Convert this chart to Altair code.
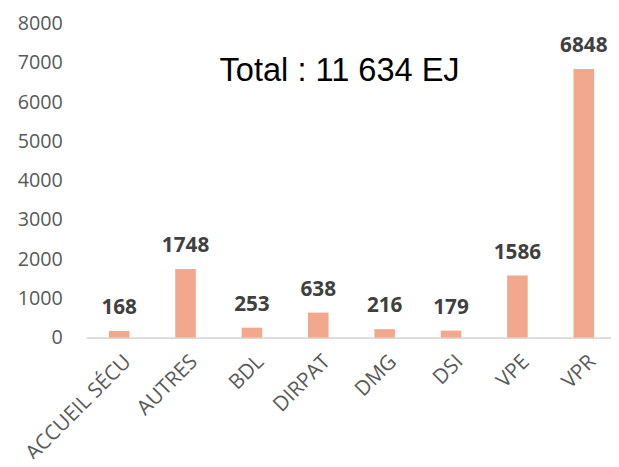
import altair as alt
import pandas as pd

categories = ["ACCUEIL SÉCU", "AUTRES", "BDL", "DIRPAT", "DMG", "DSI", "VPE", "VPR"]
values = [168, 1748, 253, 638, 216, 179, 1586, 6848]
total_label = "Total : 11 634 EJ"
y_ticks = [0, 1000, 2000, 3000, 4000, 5000, 6000, 7000, 8000]

df = pd.DataFrame({"cat": categories, "val": values})

xscale = alt.Scale(paddingInner=0.69, paddingOuter=0.3, align=0.575)
x = alt.X("cat:N", sort=categories, title=None, scale=xscale,
          axis=alt.Axis(labelAngle=315, labelAlign="right", labelBaseline="middle",
                        labelOffset=9, labelPadding=21, ticks=False, tickSize=0,
                        domainColor="#D9D9D9", domainWidth=2,
                        labelFont="Open Sans", labelFontSize=21, labelColor="#595959"))
y = alt.Y("val:Q", title=None,
          scale=alt.Scale(domain=[0, 8000], nice=False),
          axis=alt.Axis(values=y_ticks, format="d", labelOverlap=False, grid=False,
                        domain=False, ticks=False, tickSize=0,
                        labelPadding=24, labelFont="Open Sans", labelFontSize=20,
                        labelColor="#595959"))

base = alt.Chart(df)
bars = base.mark_bar(color="#F2A88C").encode(x=x, y=y)
labels = base.mark_text(font="Open Sans", fontSize=21, fontWeight="bold",
                        color="#404040", baseline="alphabetic", dy=-17).encode(
    x=x, y=y, text="val:Q")
title = alt.Chart(pd.DataFrame({"t": [total_label]})).mark_text(
    font="Liberation Sans", fontSize=33, color="#000000", align="center",
    baseline="alphabetic").encode(x=alt.value(257), y=alt.value(58), text="t:N")

chart = alt.layer(bars, labels, title).properties(
    width=532, height=318, autosize="none",
    padding={"left": 79, "top": 13, "right": 0, "bottom": 120},
).configure_view(stroke=None)

chart.save("out.html", embed_options={"renderer": "svg", "actions": False})
